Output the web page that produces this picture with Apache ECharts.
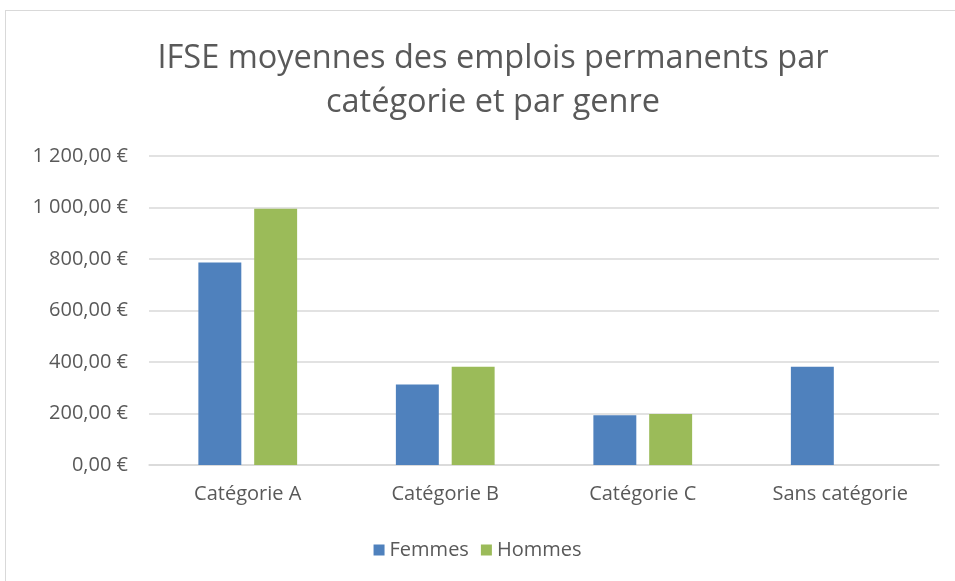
<!DOCTYPE html>
<html>
<head>
<meta charset="utf-8">
<script src="https://cdn.jsdelivr.net/npm/echarts@6/dist/echarts.min.js"></script>
<style>
  html, body { margin: 0; padding: 0; background: #fff; }
  #frame {
    position: absolute; left: 5px; top: 10px; width: 960px; height: 580px;
    border: 1px solid #d9d9d9; box-sizing: border-box;
  }
  #chart { position: absolute; left: 0; top: 0; width: 955px; height: 581px; }
</style>
</head>
<body>
<div id="frame"></div>
<div id="chart"></div>
<script>
var categories = ["Catégorie A", "Catégorie B", "Catégorie C", "Sans catégorie"];
var femmes = [786, 313, 193, 382];
var hommes = [995, 382, 198, null];
var seriesNames = ["Femmes", "Hommes"];

// format "1 200,00 €"
function euro(v) {
  var s = v.toFixed(2).split(".");
  var ent = s[0].replace(/\B(?=(\d{3})+(?!\d))/g, " ");
  return ent + "," + s[1] + " €";
}

var myChart = echarts.init(document.getElementById("chart"));
var fontName = "'Open Sans', sans-serif";
var option = {
  animation: false,
  title: {
    text: "IFSE moyennes des emplois permanents par\ncatégorie et par genre",
    left: 488,
    top: 32,
    textAlign: "center",
    textStyle: {
      color: "#595959",
      fontFamily: fontName,
      fontWeight: "normal",
      fontSize: 32.5,
      lineHeight: 44
    }
  },
  legend: {
    bottom: 16,
    left: "center",
    itemWidth: 11,
    itemHeight: 11,
    itemGap: 12,
    icon: "rect",
    textStyle: { color: "#595959", fontSize: 20, fontFamily: fontName },
    data: seriesNames
  },
  grid: {
    left: 149,
    right: 16,
    top: 156,
    bottom: 116
  },
  xAxis: {
    type: "category",
    data: categories,
    axisTick: { show: false },
    axisLine: { lineStyle: { color: "#d9d9d9", width: 1.5 } },
    axisLabel: { color: "#595959", fontSize: 20, fontFamily: fontName, margin: 19 }
  },
  yAxis: {
    type: "value",
    min: 0,
    max: 1200,
    interval: 200,
    axisLabel: {
      color: "#595959", fontSize: 20, fontFamily: fontName, margin: 21,
      formatter: euro
    },
    splitLine: { lineStyle: { color: "#d9d9d9", width: 1.5 } }
  },
  series: [
    {
      name: seriesNames[0],
      type: "bar",
      data: femmes,
      barGap: "30%",
      barCategoryGap: "50%",
      itemStyle: { color: "#4f81bd" }
    },
    {
      name: seriesNames[1],
      type: "bar",
      data: hommes,
      itemStyle: { color: "#9bbb59" }
    }
  ]
};
myChart.setOption(option);
</script>
</body>
</html>
